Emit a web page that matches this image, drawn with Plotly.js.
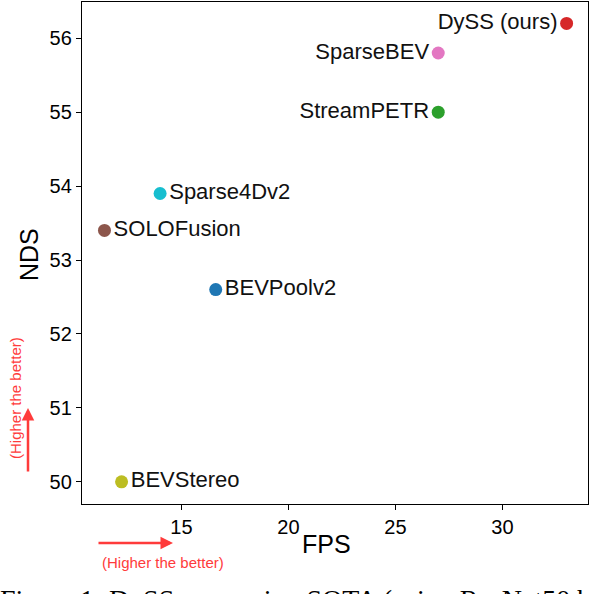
<!DOCTYPE html>
<html>
<head>
<meta charset="utf-8">
<script src="https://cdn.plot.ly/plotly-3.0.1.min.js"></script>
<style>html,body{margin:0;padding:0;background:#fff;}#chart{width:602px;height:594px;}</style>
</head>
<body>
<div id="chart"></div>
<script>
const methods = ["BEVStereo", "BEVPoolv2", "SOLOFusion", "Sparse4Dv2", "StreamPETR", "SparseBEV", "DySS (ours)"];
const fps = [12.2, 16.6, 11.4, 14.0, 27.0, 27.0, 33.0];
const nds = [50.0, 52.6, 53.4, 53.9, 55.0, 55.8, 56.2];
const colors = ["#bcbd22", "#1f77b4", "#8c564b", "#17becf", "#2ca02c", "#e377c2", "#d62728"];
const labelSide = ["middle right", "middle right", "middle right", "middle right", "middle left", "middle left", "middle left"];
const xTicks = [15, 20, 25, 30];
const yTicks = [50, 51, 52, 53, 54, 55, 56];

const L = 82, T = 2, W = 506, H = 502;
const px = x => (x - L) / W;
const py = y => (T + H - y) / H;
const red = "#ff3b3b";

const trace = {
  type: "scatter",
  mode: "markers+text",
  x: fps, y: nds,
  text: methods,
  textposition: labelSide,
  textfont: {family: "Liberation Sans, Arial, sans-serif", size: 22, color: "#111"},
  marker: {color: colors, size: 13, line: {width: 0}},
  hoverinfo: "skip",
  cliponaxis: false
};

const layout = {
  width: 602, height: 594,
  margin: {l: L, r: 602 - L - W, t: T, b: 594 - T - H},
  paper_bgcolor: "#fff", plot_bgcolor: "#fff",
  showlegend: false,
  font: {family: "Liberation Sans, Arial, sans-serif", color: "#000"},
  xaxis: {
    range: [10.35, 34.0],
    tickvals: xTicks,
    ticks: "outside", ticklen: 5, tickwidth: 1, tickcolor: "#000",
    showgrid: false, zeroline: false,
    showline: true, linecolor: "#000", linewidth: 1.2, mirror: true,
    tickfont: {size: 20, color: "#000"}
  },
  yaxis: {
    range: [49.70, 56.49],
    tickvals: yTicks,
    ticks: "outside", ticklen: 5, tickwidth: 1, tickcolor: "#000",
    showgrid: false, zeroline: false,
    showline: true, linecolor: "#000", linewidth: 1.2, mirror: true,
    tickfont: {size: 20, color: "#000"}
  },
  annotations: [
    {xref: "paper", yref: "paper", x: px(326.5), y: py(544), xanchor: "center", yanchor: "middle",
     showarrow: false, text: "FPS", font: {size: 25, color: "#000"}},
    {xref: "paper", yref: "paper", x: px(29), y: py(255), xanchor: "center", yanchor: "middle",
     textangle: -90, showarrow: false, text: "NDS", font: {size: 25, color: "#000"}},
    {xref: "paper", yref: "paper", x: px(173), y: py(543), ax: -76, ay: 0,
     showarrow: true, arrowhead: 2, arrowsize: 1, arrowwidth: 2.5, arrowcolor: red, text: ""},
    {xref: "paper", yref: "paper", x: px(163), y: py(562), xanchor: "center", yanchor: "middle",
     showarrow: false, text: "(Higher the better)", font: {size: 15, color: red}},
    {xref: "paper", yref: "paper", x: px(28), y: py(408), ax: 0, ay: 65,
     showarrow: true, arrowhead: 2, arrowsize: 1, arrowwidth: 2.5, arrowcolor: red, text: ""},
    {xref: "paper", yref: "paper", x: px(15), y: py(398), xanchor: "center", yanchor: "middle",
     textangle: -90, showarrow: false, text: "(Higher the better)", font: {size: 15, color: red}},
    {xref: "paper", yref: "paper", x: px(-2), y: py(582), xanchor: "left", yanchor: "top",
     showarrow: false, text: "Figure 1: DySS surpassing SOTA (using ResNet50 backbone) on nuScenes",
     font: {family: "Liberation Serif, Times New Roman, serif", size: 28, color: "#000"}}
  ]
};

Plotly.newPlot("chart", [trace], layout, {staticPlot: true, displayModeBar: false});
</script>
</body>
</html>
